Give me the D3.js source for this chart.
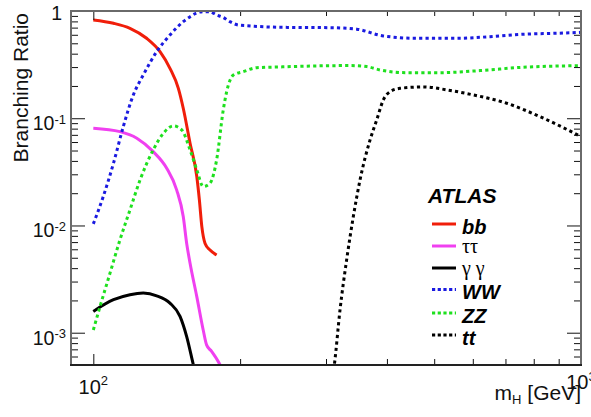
<!DOCTYPE html>
<html>
<head>
<meta charset="utf-8">
<script src="https://cdn.jsdelivr.net/npm/d3@7"></script>
<style>
  html, body { margin: 0; padding: 0; background: #fff; }
  svg { display: block; }
</style>
</head>
<body>
<svg id="chart" width="591" height="417"></svg>
<script>
// ---------------- data ----------------
const bbMass = [100, 110, 118.9, 128.6, 137, 143.6, 149.4, 152.9, 157.9, 163, 165, 166.9, 169.5, 173.5, 179];
const bbBR   = [0.824, 0.768, 0.69, 0.557, 0.418, 0.292, 0.19, 0.124, 0.0585, 0.0286, 0.0173, 0.0098, 0.0068, 0.0059, 0.0053];

const tautauMass = [100, 113.4, 122.8, 132.7, 141.4, 148.2, 152.9, 155.4, 157.9, 163, 168, 170.7, 174.8, 182, 184];
const tautauBR   = [0.0807, 0.075, 0.0651, 0.0488, 0.0342, 0.0215, 0.0121, 0.0068, 0.00445, 0.00217, 0.00106, 0.00077, 0.00067, 0.0005, 0.00045];

const gamgamMass = [100, 110, 118.9, 126.6, 134.9, 143.6, 150.6, 155.4, 160.4, 161.5];
const gamgamBR   = [0.00158, 0.00203, 0.00226, 0.00234, 0.00221, 0.00189, 0.00142, 0.00092, 0.0005, 0.00044];

const wwMass = [100, 104.8, 110, 115.2, 120.8, 126.6, 134.9, 143.6, 152.9, 158, 163, 168, 173, 179, 184.7, 190.6, 198.3, 206.4, 241.5, 305.7, 346.8, 393.2, 460, 556, 650.5, 761.7, 891.5, 1000];
const wwBR   = [0.01035, 0.0186, 0.0381, 0.0835, 0.165, 0.253, 0.418, 0.597, 0.795, 0.885, 0.96, 0.985, 0.985, 0.918, 0.87, 0.795, 0.74, 0.729, 0.705, 0.699, 0.677, 0.585, 0.557, 0.557, 0.576, 0.607, 0.62, 0.633];

const zzMass = [100, 103.2, 108.2, 113.4, 118.9, 124.7, 132.7, 139.2, 145.9, 151.8, 157.9, 163, 168, 173.5, 179, 184.7, 187.7, 193.7, 203, 216.3, 241.5, 305.7, 336, 363.6, 387, 439, 514, 620.7, 761.7, 1000];
const zzBR   = [0.00106, 0.00175, 0.00359, 0.00734, 0.01397, 0.0266, 0.0507, 0.0725, 0.0848, 0.0778, 0.0507, 0.033, 0.0231, 0.0248, 0.0409, 0.1195, 0.177, 0.253, 0.272, 0.296, 0.301, 0.309, 0.31, 0.303, 0.282, 0.266, 0.266, 0.278, 0.299, 0.309];

const ttMass = [311, 312, 320.5, 330.7, 341.3, 352.3, 369.4, 381.2, 393.2, 406, 425.4, 475, 530.4, 601.5, 704, 824, 1000];
const ttBR   = [0.00045, 0.0005, 0.00163, 0.00478, 0.0121, 0.0266, 0.0628, 0.0964, 0.148, 0.177, 0.19, 0.196, 0.184, 0.165, 0.138, 0.1035, 0.0674];

const seriesNames = ["bb", "ττ", "γ γ", "WW", "ZZ", "tt"];

const xMajorTicks = [100, 1000];
const xMinorTicks = [200, 300, 400, 500, 600, 700, 800, 900];
const xTickLabels = [{base: "10", exp: "2", v: 100}, {base: "10", exp: "3", v: 1000}];
const yMajorTicks = [1, 0.1, 0.01, 0.001];
const yMinorTicks = [0.9, 0.8, 0.7, 0.6, 0.5, 0.4, 0.3, 0.2,
                     0.09, 0.08, 0.07, 0.06, 0.05, 0.04, 0.03, 0.02,
                     0.009, 0.008, 0.007, 0.006, 0.005, 0.004, 0.003, 0.002,
                     0.0009, 0.0008, 0.0007, 0.0006, 0.0005];
const yTickLabels = [{base: "1", exp: "", v: 1}, {base: "10", exp: "-1", v: 0.1},
                     {base: "10", exp: "-2", v: 0.01}, {base: "10", exp: "-3", v: 0.001}];

// ---------------- layout ----------------
const L = 71, R = 581, T = 11, B = 365;
const svg = d3.select("#chart");
svg.append("rect").attr("width", 591).attr("height", 417).attr("fill", "#fff");

const x = d3.scaleLog().domain([90, 1000]).range([L, R]);
const y = d3.scaleLog().domain([5e-4, 1]).range([B, T]);

svg.append("defs").append("clipPath").attr("id", "plotclip")
  .append("rect").attr("x", L).attr("y", T).attr("width", R - L).attr("height", B - T);

// ---------------- series ----------------
const styles = [
  {mass: bbMass, br: bbBR, color: "#f01e0a", dash: null},
  {mass: tautauMass, br: tautauBR, color: "#f040f0", dash: null},
  {mass: gamgamMass, br: gamgamBR, color: "#000000", dash: null},
  {mass: wwMass, br: wwBR, color: "#1a1ae0", dash: "3.2,3.2"},
  {mass: zzMass, br: zzBR, color: "#1ee01e", dash: "3.2,3.2"},
  {mass: ttMass, br: ttBR, color: "#000000", dash: "3.2,3.2"}
];

const line = d3.line()
  .x(d => x(d[0]))
  .y(d => y(d[1]))
  .curve(d3.curveMonotoneX);

const plot = svg.append("g").attr("clip-path", "url(#plotclip)");
styles.forEach(s => {
  const pts = s.mass.map((m, i) => [m, s.br[i]]);
  plot.append("path")
    .datum(pts)
    .attr("d", line)
    .attr("fill", "none")
    .attr("stroke", s.color)
    .attr("stroke-width", 3)
    .attr("stroke-dasharray", s.dash)
    .attr("stroke-linecap", "butt");
});

// ---------------- axes ----------------
function tickAxis(axisFn, scale, vals, size, transform) {
  const g = svg.append("g").attr("transform", transform)
    .call(axisFn(scale).tickValues(vals).tickSize(size).tickFormat(""));
  g.select(".domain").remove();
  g.selectAll(".tick line").attr("stroke", "#111").attr("stroke-width", 1);
  return g;
}
// bottom (ticks pointing up)
tickAxis(d3.axisBottom, x, xMajorTicks, -11, `translate(0,${B})`);
tickAxis(d3.axisBottom, x, xMinorTicks, -6, `translate(0,${B})`);
// top (ticks pointing down)
tickAxis(d3.axisTop, x, xMajorTicks, -9, `translate(0,${T})`);
tickAxis(d3.axisTop, x, xMinorTicks, -5, `translate(0,${T})`);
// left (ticks pointing right)
tickAxis(d3.axisLeft, y, yMajorTicks, -14, `translate(${L},0)`);
tickAxis(d3.axisLeft, y, yMinorTicks, -7, `translate(${L},0)`);
// right (ticks pointing left)
tickAxis(d3.axisRight, y, yMajorTicks, -14, `translate(${R},0)`);
tickAxis(d3.axisRight, y, yMinorTicks, -7, `translate(${R},0)`);

// frame
svg.append("rect").attr("x", L).attr("y", T).attr("width", R - L).attr("height", B - T)
  .attr("fill", "none").attr("stroke", "#6a6a6a").attr("stroke-width", 2);
svg.append("line").attr("x1", L - 1).attr("x2", R + 1).attr("y1", B).attr("y2", B)
  .attr("stroke", "#222").attr("stroke-width", 2);

const font = "'Liberation Sans', Arial, Helvetica, sans-serif";

// y tick labels
yTickLabels.forEach(t => {
  const txt = svg.append("text")
    .attr("x", t.exp ? 66 : 62)
    .attr("y", y(t.v) + (t.exp ? 12 : 9))
    .attr("text-anchor", "end")
    .attr("font-family", font).attr("font-size", 19.5).attr("fill", "#111");
  txt.append("tspan").text(t.base);
  if (t.exp) txt.append("tspan").attr("font-size", 13).attr("dy", -6.5).text(t.exp);
});

// x tick labels
xTickLabels.forEach((t, i) => {
  const txt = svg.append("text")
    .attr("x", x(t.v))
    .attr("y", i === 0 ? 393.5 : 389)
    .attr("text-anchor", "middle")
    .attr("font-family", font).attr("font-size", 20).attr("fill", "#111");
  txt.append("tspan").text(t.base);
  txt.append("tspan").attr("font-size", 13).attr("dy", -8.5).text(t.exp);
});

// axis titles
svg.append("text")
  .attr("transform", "translate(28,13) rotate(-90)")
  .attr("text-anchor", "end")
  .attr("font-family", font).attr("font-size", 21).attr("fill", "#111")
  .text("Branching Ratio");

const xt = svg.append("text")
  .attr("x", 581).attr("y", 400)
  .attr("text-anchor", "end")
  .attr("font-family", font).attr("font-size", 21).attr("fill", "#111");
xt.append("tspan").text("m");
xt.append("tspan").attr("font-size", 13).attr("dy", 4).text("H");
xt.append("tspan").attr("dy", -4).text(" [GeV]");

// ---------------- legend ----------------
svg.append("text")
  .attr("x", 428).attr("y", 203)
  .attr("font-family", font).attr("font-size", 21)
  .attr("font-weight", "bold").attr("font-style", "italic").attr("fill", "#000")
  .text("ATLAS");

const legendRows = [224, 246, 268, 289.5, 313, 335];
seriesNames.forEach((name, i) => {
  const s = styles[i];
  const cy = legendRows[i];
  svg.append("line")
    .attr("x1", 432).attr("x2", 456).attr("y1", cy).attr("y2", cy)
    .attr("stroke", s.color).attr("stroke-width", 3)
    .attr("stroke-dasharray", s.dash ? "3.2,2.5" : null);
  const greek = (i === 1 || i === 2);
  svg.append("text")
    .attr("x", 462).attr("y", cy + (greek ? 7 : 9.5))
    .attr("font-family", greek ? "'Liberation Serif', 'Times New Roman', serif" : font)
    .attr("font-size", greek ? 20 : 20)
    .attr("font-weight", greek ? "normal" : "bold")
    .attr("font-style", greek ? "normal" : "italic")
    .attr("fill", "#000")
    .text(name);
});
</script>
</body>
</html>
